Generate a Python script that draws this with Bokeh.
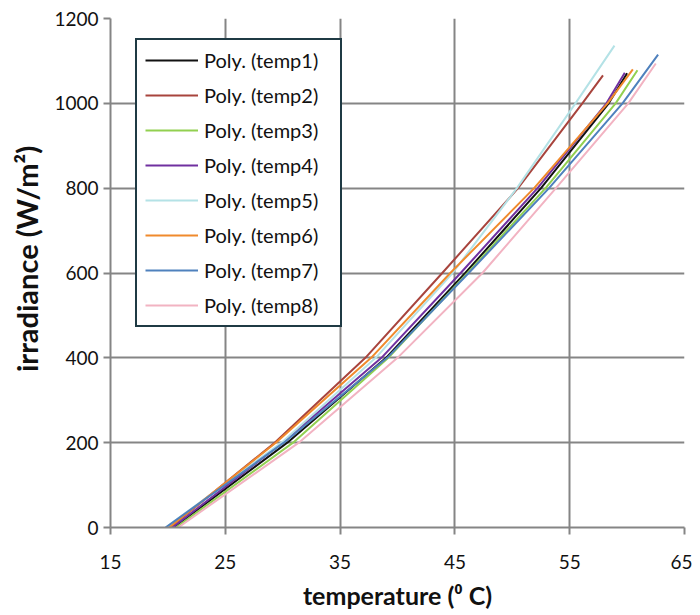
from bokeh.plotting import figure
from bokeh.models import Legend, LegendItem, FixedTicker, Range1d
from bokeh.embed import file_html
from bokeh.resources import INLINE

# ---- data (temperature in deg C at given irradiance) ----
series_names = ["Poly. (temp1)", "Poly. (temp2)", "Poly. (temp3)", "Poly. (temp4)",
                "Poly. (temp5)", "Poly. (temp6)", "Poly. (temp7)", "Poly. (temp8)"]

temp1_t = [20.5, 30.4, 39.0, 45.9, 52.5, 58.4, 60.0]
temp1_irr = [0, 200, 400, 600, 800, 1000, 1071]

temp2_t = [20.2, 29.3, 37.2, 43.9, 50.5, 56.1, 57.9]
temp2_irr = [0, 200, 400, 600, 800, 1000, 1066]

temp3_t = [20.7, 30.9, 39.2, 46.1, 52.9, 59.0, 60.9]
temp3_irr = [0, 200, 400, 600, 800, 1000, 1078]

temp4_t = [20.4, 30.0, 38.6, 45.5, 52.2, 58.2, 59.8]
temp4_irr = [0, 200, 400, 600, 800, 1000, 1072]

temp5_t = [19.8, 29.9, 38.1, 44.8, 50.4, 55.5, 58.9]
temp5_irr = [0, 200, 400, 600, 800, 1000, 1136]

temp6_t = [20.1, 29.4, 37.7, 44.6, 51.9, 58.3, 60.5]
temp6_irr = [0, 200, 400, 600, 800, 1000, 1080]

temp7_t = [19.8, 30.1, 39.1, 46.2, 53.2, 59.6, 62.7]
temp7_irr = [0, 200, 400, 600, 800, 1000, 1115]

temp8_t = [20.9, 31.4, 40.0, 47.4, 53.8, 60.1, 62.5]
temp8_irr = [0, 200, 400, 600, 800, 1000, 1094]

x_ticks = [15, 25, 35, 45, 55, 65]
y_ticks = [0, 200, 400, 600, 800, 1000, 1200]

colors = ["#111111", "#A8443D", "#92D050", "#7030A0",
          "#B4E2E6", "#F08A2C", "#4F81BD", "#F2B3C2"]

all_t = [temp1_t, temp2_t, temp3_t, temp4_t, temp5_t, temp6_t, temp7_t, temp8_t]
all_irr = [temp1_irr, temp2_irr, temp3_irr, temp4_irr, temp5_irr, temp6_irr, temp7_irr, temp8_irr]

FONT = "Lato"

p = figure(width=692, height=612, output_backend="svg", toolbar_location=None,
           x_range=Range1d(15, 65), y_range=Range1d(0, 1200),
           min_border_left=110, min_border_right=8, min_border_top=18, min_border_bottom=84)
p.outline_line_color = None
p.background_fill_color = "white"
p.border_fill_color = "white"

# grid
for g in (p.xgrid, p.ygrid):
    g.grid_line_color = "#858585"
    g.grid_line_width = 2
p.xgrid.ticker = FixedTicker(ticks=x_ticks)
p.ygrid.ticker = FixedTicker(ticks=y_ticks)

# axes
p.xaxis.ticker = FixedTicker(ticks=x_ticks)
p.yaxis.ticker = FixedTicker(ticks=y_ticks)
for ax in (p.xaxis[0], p.yaxis[0]):
    ax.axis_line_color = "#858585"
    ax.axis_line_width = 2
    ax.major_tick_line_color = "#858585"
    ax.major_tick_line_width = 2
    ax.major_tick_out = 7
    ax.major_tick_in = 0
    ax.minor_tick_line_color = None
    ax.major_label_text_font = FONT
    ax.major_label_text_font_size = "19px"
    ax.major_label_text_color = "#111111"
    ax.axis_label_text_font = FONT
    ax.axis_label_text_font_style = "bold"
    ax.axis_label_text_color = "#111111"

p.xaxis.axis_label = "temperature (\u2070 C)"
p.xaxis.axis_label_text_font_size = "25px"
p.xaxis.major_label_standoff = 20
p.xaxis.axis_label_standoff = 8

p.yaxis.axis_label = "\u00a0\u00a0\u00a0\u00a0irradiance (W/m\u00b2)"
p.yaxis.axis_label_text_font_size = "29px"
p.yaxis.major_label_standoff = 5
p.yaxis.axis_label_standoff = 7

items = []
for name, xs, ys, c in zip(series_names, all_t, all_irr, colors):
    r = p.line(xs, ys, line_color=c, line_width=2)
    items.append(LegendItem(label=name, renderers=[r]))

legend = Legend(items=items, location=(25, 200), padding=8, margin=0,
                label_height=24, glyph_height=24, glyph_width=53, spacing=11,
                label_standoff=6, label_width=128,
                label_text_font=FONT, label_text_font_size="20px",
                label_text_color="#111111",
                border_line_color="#1F3A44", border_line_width=2, border_line_alpha=1.0,
                background_fill_color="white", background_fill_alpha=1.0)
p.add_layout(legend)

open("out.html", "w").write(file_html(p, INLINE))
